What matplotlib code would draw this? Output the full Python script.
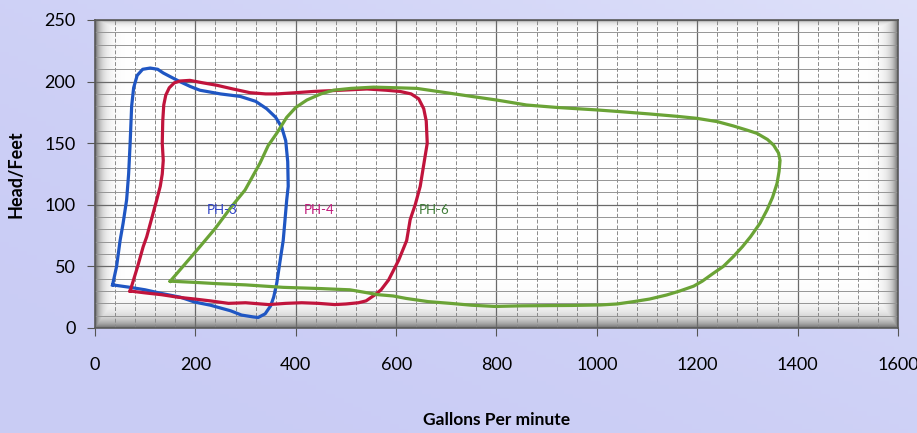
import matplotlib
matplotlib.use("Agg")
import matplotlib.pyplot as plt
import numpy as np
from matplotlib.ticker import MultipleLocator

plt.rcParams["font.family"] = ["Lato", "DejaVu Sans"]

# PH-3 performance envelope (gpm, head ft)
ph3_gpm = [35, 70, 100, 133, 170, 199, 230, 252, 270, 292, 315, 325, 339, 350, 356, 362,
           369, 375, 378, 382, 385, 384, 380, 372, 360, 342, 320, 289, 250, 209, 190,
           169, 150, 136, 125, 110, 95, 84, 77, 73, 70, 67, 63, 56, 50, 43, 35]
ph3_head = [35, 33, 31, 28, 25, 21, 18.5, 16, 14, 10.5, 9, 8.5, 11.5, 18, 25, 36,
            55, 71, 85, 104, 115, 135, 152, 163, 171, 178, 184, 188, 190, 193, 196,
            200, 204, 207, 210, 211, 210, 205, 195, 180, 150, 125, 104, 85, 71, 50, 35]

# PH-4
ph4_gpm = [70, 100, 133, 165, 199, 230, 266, 300, 346, 380, 412, 445, 478, 500, 525, 540,
           558, 570, 585, 605, 621, 628, 638, 648, 658, 662, 660, 655, 645, 630, 608,
           580, 542, 490, 435, 400, 362, 340, 309, 275, 243, 215, 189, 170, 158, 148,
           141, 137, 135, 134, 136, 134, 130, 123, 103, 96, 85, 70]
ph4_head = [30, 28.5, 27, 25, 23.5, 22, 20, 20.5, 19, 20, 20.5, 20, 19, 19.5, 20.5, 22,
            27, 31, 39, 55, 71, 88, 100, 115, 140, 150, 168, 178, 186, 190, 192,
            193, 194, 193, 192, 191, 190, 190, 191, 194, 197, 199, 201, 200.5, 199, 195,
            189, 181, 168, 150, 136, 125, 115, 104, 74, 66, 50, 30]

# PH-6
ph6_gpm = [150, 209, 240, 271, 299, 329, 345, 362, 382, 400, 422, 450, 475, 510, 555, 600,
           641, 708, 750, 801, 860, 921, 1000, 1050, 1106, 1160, 1199, 1240, 1272, 1300,
           1319, 1340, 1352, 1362, 1365, 1363, 1359, 1350, 1339, 1325, 1306, 1290, 1272,
           1252, 1232, 1210, 1193, 1165, 1139, 1105, 1073, 1040, 1007, 950, 907, 850, 797,
           750, 708, 664, 620, 594, 565, 508, 450, 375, 300, 243, 200, 150]
ph6_head = [38, 66, 81, 98, 112, 134, 148, 158, 171, 179, 185, 190, 193, 194.5, 195.5, 195,
            194.5, 190.5, 188, 185, 181, 179, 177, 175.5, 173.7, 171.8, 170.2, 167.5, 164, 160.5,
            158, 153, 148.5, 142, 136, 127, 117.4, 106, 95.8, 85, 74, 66, 58,
            50, 44.4, 38, 34, 30, 26.8, 23.5, 21.4, 19.5, 18.7, 18.3, 18.2, 18, 17.5,
            18.5, 20, 21.4, 24, 26, 27, 31, 32, 33, 35, 36, 37, 38]

series = [
    ("PH-3", ph3_gpm, ph3_head, "#1f56c3", "#2b3fc4", 253),
    ("PH-4", ph4_gpm, ph4_head, "#c0143c", "#c0187a", 447),
    ("PH-6", ph6_gpm, ph6_head, "#6aa336", "#3d7a35", 676),
]

fig = plt.figure(figsize=(9.17, 4.33), dpi=100)

# lavender page background with a soft diagonal fade
bg = fig.add_axes([0, 0, 1, 1], zorder=-10)
yy, xx = np.mgrid[0:1:100j, 0:1:200j]
t = 0.5 * xx + 0.5 * (1 - yy)
c0 = np.array([0.79, 0.80, 0.96])
c1 = np.array([0.87, 0.88, 0.98])
bg.imshow(c0 + (c1 - c0) * t[..., None] ** 2, aspect="auto", extent=(0, 1, 0, 1))
bg.axis("off")

ax = fig.add_axes([95 / 917, 1 - 328 / 433, 803 / 917, 308 / 433])

# bevelled plot area: white centre, gray towards the edges
h, w = 308, 803
py, px = np.mgrid[0:h, 0:w]
dark = np.maximum.reduce([
    np.exp(-px / 6.0),
    np.exp(-(w - 1 - px) / 6.0),
    np.exp(-(h - 1 - py) / 9.0),
    0.5 * np.exp(-py / 3.0),
])
shade = 1 - 0.55 * dark
ax.imshow(np.dstack([shade] * 3), extent=(0, 1600, 0, 250), aspect="auto", zorder=0)

for name, gx, gy, lc, tc, lx in series:
    ax.plot(gx, gy, color=lc, lw=2.3, solid_joinstyle="round", zorder=3)
    ax.text(lx, 96, name, color=tc, fontsize=9.5, ha="center", va="center", zorder=4)

ax.set_xlim(0, 1600)
ax.set_ylim(0, 250)
ax.xaxis.set_major_locator(MultipleLocator(200))
ax.xaxis.set_minor_locator(MultipleLocator(40))
ax.yaxis.set_major_locator(MultipleLocator(50))
ax.yaxis.set_minor_locator(MultipleLocator(10))
ax.grid(which="major", color="#6a6a6a", lw=0.9, zorder=1)
ax.grid(which="minor", axis="x", color="#8a8a8a", lw=0.7, ls=(0, (4, 2)), zorder=1)
ax.grid(which="minor", axis="y", color="#959595", lw=0.7, zorder=1)

ax.tick_params(which="major", axis="x", length=6, pad=15, color="#555555", labelsize=13)
ax.tick_params(which="major", axis="y", length=6, pad=8, color="#555555", labelsize=13)
ax.tick_params(which="minor", length=0)
for sp in ax.spines.values():
    sp.set_color("#5a5a5a")
    sp.set_linewidth(1.2)

ax.set_xlabel("Gallons Per minute", fontsize=12.5, fontweight="bold", labelpad=28)
ax.set_ylabel("Head/Feet", fontsize=13, fontweight="bold", labelpad=14)

fig.savefig("out.png", dpi=100)
